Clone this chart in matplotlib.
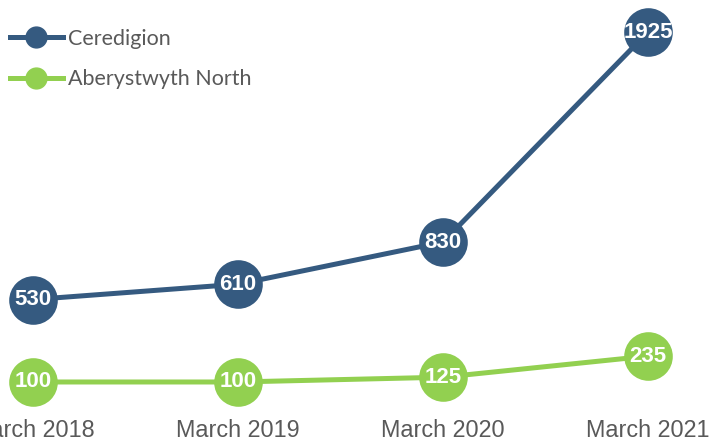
import matplotlib
matplotlib.use("Agg")
import matplotlib.pyplot as plt
from matplotlib import font_manager
from matplotlib.lines import Line2D

categories = ["March 2018", "March 2019", "March 2020", "March 2021"]
ceredigion = [530, 610, 830, 1925]
aber_north = [100, 100, 125, 235]

BLUE = "#355a80"
GREEN = "#92d050"
GREY = "#595959"


def arial_like(bold=False, size=16.5):
    # avoid matplotlib picking Liberation Sans Narrow
    want = "LiberationSans-Bold." if bold else "LiberationSans-Regular."
    for f in font_manager.fontManager.ttflist:
        if want in f.fname:
            return font_manager.FontProperties(fname=f.fname, size=size)
    return font_manager.FontProperties(family="Liberation Sans",
                                       weight="bold" if bold else "normal", size=size)


fig = plt.figure(figsize=(7.13, 4.41), dpi=100)
ax = fig.add_axes([0, 36 / 441, 1, 405 / 441])

x = list(range(len(categories)))
for vals, col in [(ceredigion, BLUE), (aber_north, GREEN)]:
    ax.plot(x, vals, color=col, linewidth=3.6, marker="o", markersize=35,
            markeredgewidth=0, solid_capstyle="round", zorder=2, clip_on=False)
    for xi, v in zip(x, vals):
        ax.text(xi, v, str(v), ha="center", va="center", color="white",
                fontproperties=arial_like(True, 16), zorder=3)

ax.set_xlim(-33 / 205, 3 + 65 / 205)
ax.set_ylim(-20, 2092)
ax.set_xticks(x)
ax.set_xticklabels(categories, color=GREY)
for lbl in ax.get_xticklabels():
    lbl.set_fontproperties(arial_like(False, 16.8))
ax.tick_params(axis="x", length=0, pad=10)
ax.set_yticks([])
for s in ax.spines.values():
    s.set_visible(False)

handles = [
    Line2D([], [], color=BLUE, linewidth=3.6, marker="o", markersize=15),
    Line2D([], [], color=GREEN, linewidth=3.6, marker="o", markersize=15),
]
leg = ax.legend(handles, ["Ceredigion", "Aberystwyth North"], loc="upper left",
                bbox_to_anchor=(10 / 713, 1 - 29 / 405), frameon=False,
                handlelength=2.45, handletextpad=0.25, labelspacing=0.95,
                borderaxespad=0, borderpad=0,
                prop={"family": "Lato", "size": 15.5})
for t in leg.get_texts():
    t.set_color(GREY)

fig.savefig("out.png", dpi=100)
